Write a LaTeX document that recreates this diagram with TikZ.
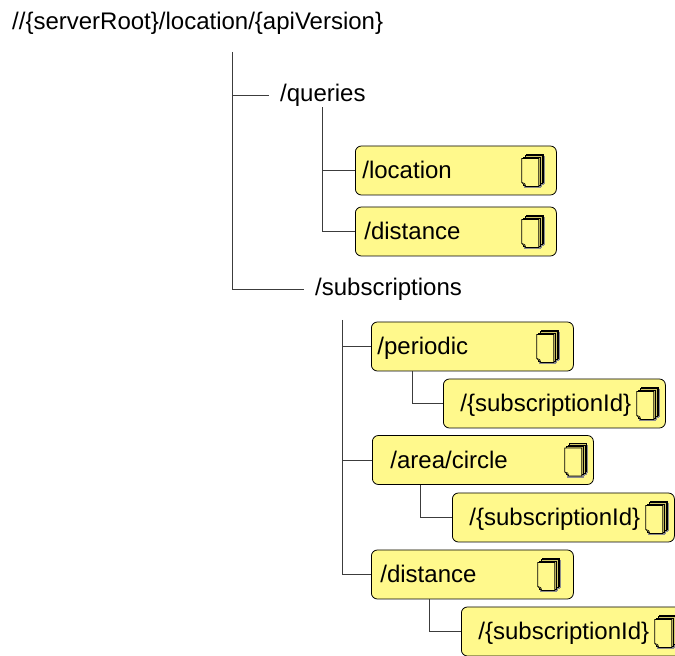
\documentclass[tikz,border=0pt]{standalone}
\usepackage{fontspec}
\setmainfont{Liberation Sans}
\usepackage{tikz}
\usetikzlibrary{positioning}
\definecolor{resfill}{RGB}{255,249,140}
\definecolor{pageback}{RGB}{212,202,104}
\definecolor{treeline}{RGB}{60,60,60}

\begin{document}
\begin{tikzpicture}[x=1pt, y=1pt, font=\fontsize{24}{28}\selectfont,
   tree/.style={draw=treeline, line width=0.8pt},
   pathlabel/.style={anchor=base west, inner xsep=11pt, inner ysep=0pt, text height=19pt, text depth=5pt},
   resbox/.style={draw, line width=0.8pt, rounded corners=6pt, fill=resfill, anchor=west,
      minimum height=49pt, text height=17pt, text depth=0pt, align=left, inner xsep=7pt, text width=187pt},
   idbox/.style={resbox, inner xsep=17pt, text width=188pt},
   docstack/.pic={
      \foreach \k in {3,2,1,0}
         \fill[black!45] ({-22+1.5*\k},{-18+1.5*\k}) rectangle ({-5+1.5*\k},{10+1.5*\k});
      \foreach \k in {3,2,1}
         \filldraw[fill=pageback, draw=black, line width=0.5pt] ({-24+1.5*\k},{-16+1.5*\k}) rectangle ({-7+1.5*\k},{12+1.5*\k});
      \filldraw[fill=resfill, draw=black, line width=0.7pt] (-24,-12) -- (-24,12) -- (-7,12) -- (-7,-16) -- (-20,-16) -- cycle;
      \draw[line width=0.5pt] (-24,-12) -- (-21,-13) -- (-20,-16);
   }]
   \useasboundingbox (0,0) rectangle (675,656);

   \node[anchor=base west, inner sep=0pt] (title) at (12,626) {//\{serverRoot\}/location/\{apiVersion\}};
   \coordinate (roottop) at (232,604);
   \node[pathlabel] (queries) at (269,554) {/queries};
   \node[pathlabel] (subs) at (304,360) {/subscriptions};
   \coordinate (subtop) at (342,336);

   \node[resbox] (loc) at (355,485.5) {/location};
   \node[resbox] (qdist) at (355,424.5) {\hspace*{2pt}/distance};
   \node[resbox, inner xsep=6pt, text width=190pt] (periodic) at (371,309.5) {/periodic};
   \node[idbox] (sid1) at (443,252.5) {/\{subscriptionId\}};
   \node[resbox, inner xsep=18pt, text width=185pt] (area) at (372,196) {/area/circle};
   \node[idbox] (sid2) at (452,138.5) {/\{subscriptionId\}};
   \node[resbox, inner xsep=9pt, text width=184pt] (sdist) at (371,81.5) {/distance};
   \node[idbox] (sid3) at (461,24.5) {/\{subscriptionId\}};

   \pic at ([xshift=-11pt]loc.east) {docstack};
   \pic at ([xshift=-11pt]qdist.east) {docstack};
   \pic at ([xshift=-13pt]periodic.east) {docstack};
   \pic at ([xshift=-5pt]sid1.east) {docstack};
   \pic at ([xshift=-5pt]area.east) {docstack};
   \pic at ([xshift=-5pt]sid2.east) {docstack};
   \pic at ([xshift=-12pt]sdist.east) {docstack};
   \pic at ([xshift=-5pt]sid3.east) {docstack};

   \draw[tree] (roottop) |- (subs.west);
   \draw[tree] (roottop |- queries.west) -- (queries.west);
   \draw[tree] (queries.south) |- (qdist.west);
   \draw[tree] (queries.south |- loc.west) -- (loc.west);
   \draw[tree] (subtop) |- (sdist.west);
   \draw[tree] (subtop |- periodic.west) -- (periodic.west);
   \draw[tree] (subtop |- area.west) -- (area.west);
   \draw[tree] ([xshift=41pt]periodic.south west) |- (sid1.west);
   \draw[tree] ([xshift=48pt]area.south west) |- (sid2.west);
   \draw[tree] ([xshift=58pt]sdist.south west) |- (sid3.west);
\end{tikzpicture}
\end{document}
